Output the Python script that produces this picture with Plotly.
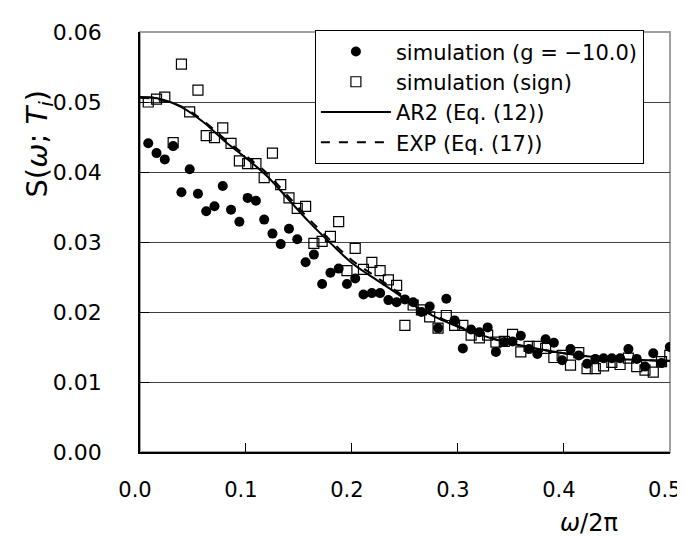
import plotly.graph_objects as go

# frequencies (omega / 2 pi) of the simulated points
freq = [0.0078, 0.0156, 0.0234, 0.0313, 0.0391, 0.0469, 0.0547, 0.0625,
        0.0703, 0.0781, 0.0859, 0.0938, 0.1016, 0.1094, 0.1172, 0.1250,
        0.1328, 0.1406, 0.1484, 0.1563, 0.1641, 0.1719, 0.1797, 0.1875,
        0.1953, 0.2031, 0.2109, 0.2188, 0.2266, 0.2344, 0.2422, 0.2500,
        0.2578, 0.2656, 0.2734, 0.2813, 0.2891, 0.2969, 0.3047, 0.3125,
        0.3203, 0.3281, 0.3359, 0.3438, 0.3516, 0.3594, 0.3672, 0.3750,
        0.3828, 0.3906, 0.3984, 0.4063, 0.4141, 0.4219, 0.4297, 0.4375,
        0.4453, 0.4531, 0.4609, 0.4688, 0.4766, 0.4844, 0.4922, 0.5000]

sim_g = [0.0441, 0.0427, 0.0418, 0.0437, 0.0371, 0.0404, 0.0369, 0.0344,
         0.0351, 0.0380, 0.0346, 0.0329, 0.0363, 0.0359, 0.0332, 0.0312,
         0.0297, 0.0319, 0.0304, 0.0271, 0.0282, 0.0240, 0.0256, 0.0262,
         0.0240, 0.0248, 0.0225, 0.0227, 0.0227, 0.0217, 0.0214, 0.0218,
         0.0214, 0.0200, 0.0208, 0.0177, 0.0219, 0.0188, 0.0148, 0.0175,
         0.0171, 0.0178, 0.0143, 0.0157, 0.0158, 0.0166, 0.0147, 0.0140,
         0.0161, 0.0156, 0.0131, 0.0147, 0.0138, 0.0126, 0.0133, 0.0134,
         0.0134, 0.0134, 0.0147, 0.0133, 0.0122, 0.0141, 0.0127, 0.0150]

sim_sign = [0.0500, 0.0504, 0.0507, 0.0442, 0.0554, 0.0486, 0.0517, 0.0452,
            0.0449, 0.0463, 0.0441, 0.0416, 0.0412, 0.0412, 0.0392, 0.0427,
            0.0382, 0.0363, 0.0348, 0.0351, 0.0298, 0.0301, 0.0308, 0.0329,
            0.0259, 0.0291, 0.0261, 0.0271, 0.0259, 0.0246, 0.0238, 0.0181,
            0.0210, 0.0203, 0.0193, 0.0177, 0.0195, 0.0181, 0.0181, 0.0167,
            0.0163, 0.0167, 0.0157, 0.0158, 0.0168, 0.0143, 0.0151, 0.0151,
            0.0148, 0.0135, 0.0138, 0.0124, 0.0142, 0.0119, 0.0119, 0.0123,
            0.0128, 0.0125, 0.0134, 0.0122, 0.0117, 0.0114, 0.0129, 0.0138]

# model curves, read on a regular grid
curve_x = [0.00, 0.02, 0.04, 0.06, 0.08, 0.10, 0.12, 0.14, 0.16, 0.18,
           0.20, 0.22, 0.24, 0.26, 0.28, 0.30, 0.32, 0.34, 0.36, 0.38,
           0.40, 0.42, 0.44, 0.46, 0.48, 0.50]
ar2 = [0.0507, 0.0504, 0.0492, 0.0471, 0.0444, 0.0420, 0.0394, 0.0361,
       0.0328, 0.0298, 0.0270, 0.0249, 0.0229, 0.0208, 0.0192, 0.0179,
       0.0168, 0.0159, 0.0152, 0.0146, 0.0141, 0.0137, 0.0134, 0.0132,
       0.0131, 0.0130]
exp17 = [0.0506, 0.0503, 0.0493, 0.0473, 0.0447, 0.0423, 0.0398, 0.0365,
         0.0332, 0.0302, 0.0274, 0.0253, 0.0232, 0.0210, 0.0194, 0.0180,
         0.0168, 0.0159, 0.0152, 0.0146, 0.0141, 0.0137, 0.0134, 0.0132,
         0.0131, 0.0130]

x_ticks = [0.0, 0.1, 0.2, 0.3, 0.4, 0.5]
x_labels = ["0.0", "0.1", "0.2", "0.3", "0.4", "0.5"]
y_ticks = [0.00, 0.01, 0.02, 0.03, 0.04, 0.05, 0.06]

FONT = "DejaVu Sans"

fig = go.Figure()
fig.add_trace(go.Scatter(
    x=freq, y=sim_g, mode="markers", name="simulation (g = \u221210.0)",
    marker=dict(symbol="circle", size=10, color="black")))
fig.add_trace(go.Scatter(
    x=freq, y=sim_sign, mode="markers", name="simulation (sign)",
    marker=dict(symbol="square-open", size=10, color="black",
                line=dict(width=1.2, color="black"))))
fig.add_trace(go.Scatter(
    x=curve_x, y=ar2, mode="lines", name="AR2 (Eq. (12))",
    line=dict(color="black", width=2, shape="spline")))
fig.add_trace(go.Scatter(
    x=curve_x, y=exp17, mode="lines", name="EXP (Eq. (17))",
    line=dict(color="black", width=2, shape="spline", dash="dash")))

fig.update_layout(
    width=685, height=537,
    margin=dict(l=132, r=15, t=21, b=93),
    paper_bgcolor="white", plot_bgcolor="white",
    font=dict(family=FONT, size=22, color="black"),
    showlegend=True,
    legend=dict(x=0.33, y=1.004, xanchor="left", yanchor="top",
                bgcolor="white", bordercolor="black", borderwidth=1,
                font=dict(family=FONT, size=21), itemwidth=70,
                tracegroupgap=0),
    xaxis=dict(range=[0, 0.5002], tickvals=x_ticks, ticktext=x_labels,
               ticks="inside", ticklen=9, tickcolor="black",
               showline=True, linecolor="black", linewidth=1.5,
               showgrid=False, zeroline=False,
               tickfont=dict(family=FONT, size=21),
               ticklabelstandoff=18, ticklabelshift=-5),
    yaxis=dict(range=[0, 0.06], tickvals=y_ticks, tickformat=".2f",
               ticks="inside", ticklen=9, tickcolor="black",
               showline=True, linecolor="black", linewidth=1.5,
               showgrid=True, gridcolor="#404040", gridwidth=1,
               zeroline=False,
               tickfont=dict(family=FONT, size=22),
               ticklabelstandoff=32),
    shapes=[dict(type="rect", xref="paper", yref="paper",
                 x0=0, x1=1, y0=0, y1=1, layer="below",
                 line=dict(color="#a0a0a0", width=2))],
    annotations=[
        dict(text="S(<i>\u03c9</i>; <i>T<sub>i</sub></i>)",
             xref="paper", yref="paper", x=-0.19, y=0.735,
             xanchor="center", yanchor="middle", textangle=-90,
             showarrow=False, font=dict(family=FONT, size=29)),
        dict(text="<i>\u03c9</i>/2\u03c0",
             xref="paper", yref="paper", x=0.848, y=-0.168,
             xanchor="center", yanchor="middle",
             showarrow=False, font=dict(family=FONT, size=24)),
    ],
)

fig.write_html("out.html")
